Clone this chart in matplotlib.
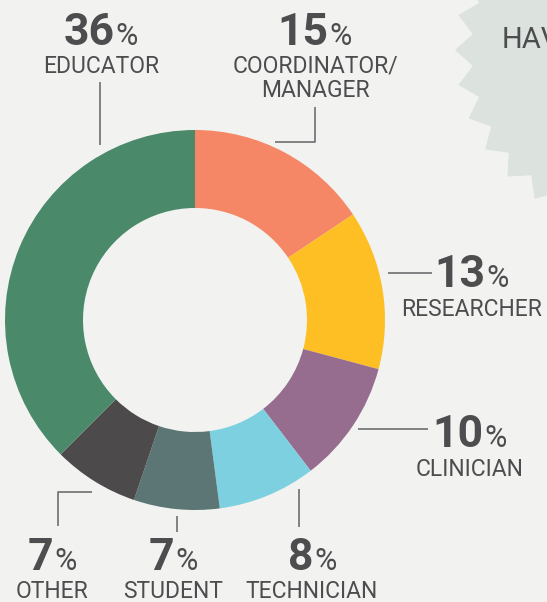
import matplotlib
matplotlib.use('Agg')
import matplotlib.pyplot as plt
import numpy as np
from matplotlib.patches import Polygon

plt.rcParams['font.family'] = ['Roboto', 'DejaVu Sans']

# ---- data ----
categories = ['COORDINATOR/\nMANAGER', 'RESEARCHER', 'CLINICIAN', 'TECHNICIAN',
              'STUDENT', 'OTHER', 'EDUCATOR']
values = [15, 13, 10, 8, 7, 7, 36]
colors = ['#f58766', '#fdbf24', '#976d8f', '#7dd0e0', '#5b7674', '#4d4a4b', '#4a8a6b']

# ---- layout (pixels from top-left) ----
W, H = 547, 602
BG = '#f2f3f0'
TC = '#4d4d4f'
LC = '#6d6e70'

# number centre x, number baseline y, label baseline y
label_pos = {
    'COORDINATOR/\nMANAGER': (315, 45, 73),
    'RESEARCHER': (472, 287, 316),
    'CLINICIAN': (470, 447, 476),
    'TECHNICIAN': (312, 570, 598),
    'STUDENT': (173, 570, 598),
    'OTHER': (52, 570, 598),
    'EDUCATOR': (101, 45, 73),
}
leaders = {
    'COORDINATOR/\nMANAGER': [(315, 107), (315, 142), (275, 142)],
    'RESEARCHER': [(388, 273), (432, 273)],
    'CLINICIAN': [(358, 429), (428, 429)],
    'TECHNICIAN': [(299, 489), (299, 527)],
    'STUDENT': [(177, 516), (177, 532)],
    'OTHER': [(92, 492), (58, 492), (58, 526)],
    'EDUCATOR': [(100, 82), (100, 145)],
}

fig = plt.figure(figsize=(W / 100, H / 100), dpi=100, facecolor=BG)
ax = fig.add_axes([0, 0, 1, 1])
ax.set_facecolor(BG)

# starburst in the top-right corner
n = 32
k = np.arange(2 * n)
ang = np.deg2rad(180 + k * 360 / (2 * n))
rr = np.where(k % 2 == 0, 179, 162)
pts = np.c_[634 + rr * np.cos(ang), (H - 50) + rr * np.sin(ang)]
ax.add_patch(Polygon(pts, closed=True, facecolor='#dce2de', edgecolor='none', zorder=0))
ax.text(502, H - 48, 'HAVE', fontsize=21, color=TC, ha='left', va='baseline', zorder=1)

# donut
ax.pie(values, colors=colors, startangle=90, counterclock=False, radius=190,
       center=(195, H - 320), wedgeprops=dict(width=78, linewidth=0))
ax.set_xlim(0, W)
ax.set_ylim(0, H)
ax.set_aspect('auto')
ax.axis('off')

renderer = fig.canvas.get_renderer()

for cat, val in zip(categories, values):
    cx, yb, ly = label_pos[cat]
    t1 = ax.text(0, H - yb, str(val), fontsize=32, fontweight='semibold', color=TC,
                 ha='left', va='baseline')
    t2 = ax.text(0, H - yb, '%', fontsize=22, color=TC, ha='left', va='baseline')
    w1 = t1.get_window_extent(renderer).width
    w2 = t2.get_window_extent(renderer).width
    gap = 1
    x0 = cx - (w1 + gap + w2) / 2
    t1.set_x(x0)
    t2.set_x(x0 + w1 + gap)
    for i, line in enumerate(cat.split('\n')):
        ax.text(cx, H - (ly + i * 24), line, fontsize=16.5, color=TC,
                ha='center', va='baseline')
    xs, ys = zip(*leaders[cat])
    ax.plot(xs, [H - y for y in ys], color=LC, lw=1.2, solid_capstyle='butt')

fig.savefig('out.png', dpi=100, facecolor=BG)
